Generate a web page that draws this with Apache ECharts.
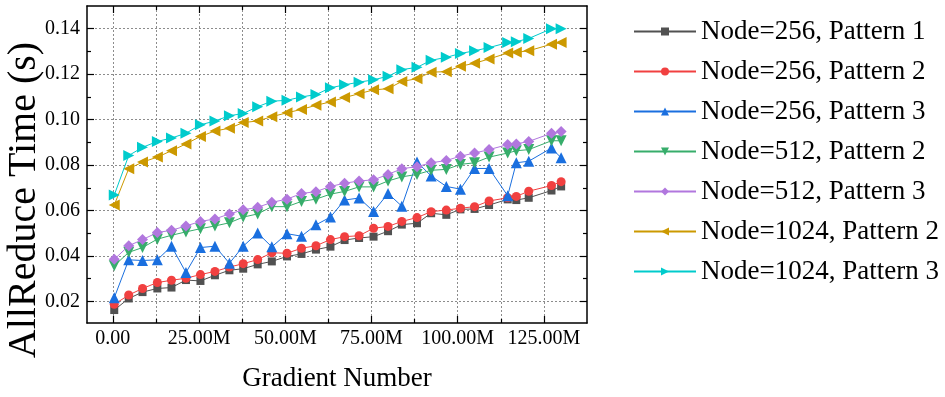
<!DOCTYPE html>
<html>
<head>
<meta charset="utf-8">
<script src="https://cdn.jsdelivr.net/npm/echarts@6/dist/echarts.min.js"></script>
<style>html,body{margin:0;padding:0;background:#fff}#c{width:945px;height:397px}</style>
</head>
<body>
<div id="c"></div>
<script>
// Gradient number (millions)
const gradientM = [0.4, 4.6, 8.6, 12.9, 17.0, 21.2, 25.4, 29.6, 33.8, 37.8, 42.0, 46.1, 50.5, 54.7, 58.9, 63.1, 67.2, 71.4, 75.6, 79.8, 83.8, 88.2, 92.3, 96.7, 100.8, 104.9, 109.1, 114.5, 117.0, 120.6, 127.2, 130.0];

const node256p1 = [0.0162, 0.0213, 0.0241, 0.0257, 0.0261, 0.0294, 0.0290, 0.0315, 0.0337, 0.0344, 0.0363, 0.0376, 0.0398, 0.0409, 0.0428, 0.0441, 0.0470, 0.0479, 0.0485, 0.0509, 0.0538, 0.0544, 0.0588, 0.0581, 0.0605, 0.0607, 0.0624, 0.0649, 0.0646, 0.0656, 0.0688, 0.0706];
const node256p2 = [0.0187, 0.0228, 0.0257, 0.0283, 0.0293, 0.0302, 0.0318, 0.0332, 0.0351, 0.0366, 0.0384, 0.0414, 0.0412, 0.0434, 0.0445, 0.0472, 0.0485, 0.0489, 0.0522, 0.0530, 0.0552, 0.0569, 0.0595, 0.0602, 0.0610, 0.0617, 0.0642, 0.0656, 0.0662, 0.0685, 0.0710, 0.0727];
const node256p3 = [0.0216, 0.0383, 0.0380, 0.0383, 0.0443, 0.0327, 0.0437, 0.0443, 0.0368, 0.0443, 0.0501, 0.0440, 0.0498, 0.0487, 0.0537, 0.0571, 0.0646, 0.0655, 0.0596, 0.0675, 0.0619, 0.0814, 0.0752, 0.0706, 0.0694, 0.0785, 0.0785, 0.0665, 0.0810, 0.0817, 0.0875, 0.0832];
const node512p2 = [0.0357, 0.0416, 0.0437, 0.0474, 0.0491, 0.0506, 0.0520, 0.0532, 0.0546, 0.0571, 0.0585, 0.0617, 0.0617, 0.0640, 0.0650, 0.0672, 0.0684, 0.0704, 0.0704, 0.0730, 0.0748, 0.0759, 0.0777, 0.0781, 0.0803, 0.0810, 0.0835, 0.0853, 0.0863, 0.0868, 0.0907, 0.0907];
const node512p3 = [0.0385, 0.0445, 0.0472, 0.0503, 0.0513, 0.0532, 0.0552, 0.0563, 0.0585, 0.0603, 0.0614, 0.0636, 0.0650, 0.0675, 0.0683, 0.0706, 0.0720, 0.0730, 0.0735, 0.0759, 0.0784, 0.0793, 0.0810, 0.0820, 0.0839, 0.0853, 0.0868, 0.0890, 0.0893, 0.0904, 0.0940, 0.0948];
const node1024p2 = [0.0624, 0.0784, 0.0813, 0.0835, 0.0863, 0.0893, 0.0926, 0.0950, 0.0962, 0.0987, 0.0994, 0.1013, 0.1030, 0.1045, 0.1063, 0.1078, 0.1097, 0.1114, 0.1131, 0.1136, 0.1168, 0.1180, 0.1209, 0.1211, 0.1235, 0.1248, 0.1267, 0.1293, 0.1296, 0.1303, 0.1332, 0.1339];
const node1024p3 = [0.0668, 0.0842, 0.0878, 0.0904, 0.0919, 0.0940, 0.0977, 0.0994, 0.1017, 0.1027, 0.1057, 0.1081, 0.1085, 0.1100, 0.1110, 0.1140, 0.1153, 0.1165, 0.1175, 0.1191, 0.1220, 0.1230, 0.1261, 0.1274, 0.1291, 0.1303, 0.1317, 0.1339, 0.1343, 0.1357, 0.1400, 0.1400];

const seriesNames = ['Node=256, Pattern 1', 'Node=256, Pattern 2', 'Node=256, Pattern 3', 'Node=512, Pattern 2', 'Node=512, Pattern 3', 'Node=1024, Pattern 2', 'Node=1024, Pattern 3'];

// Tick values / labels
const xMajorTicks = [0, 25, 50, 75, 100, 125];
const xTickLabels = ['0.00', '25.00M', '50.00M', '75.00M', '100.00M', '125.00M'];
const xMinorTicks = [12.5, 37.5, 62.5, 87.5, 112.5];
const xGridTicks = [0, 12.5, 25, 37.5, 50, 62.5, 75, 87.5, 100, 112.5, 125];
const yMajorTicks = [0.02, 0.04, 0.06, 0.08, 0.10, 0.12, 0.14];
const yTickLabels = ['0.02', '0.04', '0.06', '0.08', '0.10', '0.12', '0.14'];
const yMinorTicks = [0.03, 0.05, 0.07, 0.09, 0.11, 0.13];

const colors = ['#515151', '#F14040', '#1A6FDF', '#37AD6B', '#B177DE', '#CC9900', '#00CBCC'];
const symbols = ['rect', 'circle', 'triangle', 'triangle', 'diamond', 'triangle', 'triangle'];
const symRot = [0, 0, 0, 180, 0, 90, -90];
const symSize = [8, 9, 11, 11, 11, 11, 11];
const allData = [node256p1, node256p2, node256p3, node512p2, node512p3, node1024p2, node1024p3];

const FONT = '"Liberation Serif", "Times New Roman", serif';
const XMIN = -7.5, XMAX = 137.5, YMIN = 0.0105, YMAX = 0.15;

function xAxisDef(pos, ticks, len, labels, grid, showLine) {
  return {
    type: 'value', position: pos, min: XMIN, max: XMAX,
    axisLine: { show: showLine, onZero: false, lineStyle: { color: '#000', width: 1.5 } },
    axisTick: { show: len > 0, inside: true, length: len, customValues: ticks, lineStyle: { color: '#000', width: 1.2 } },
    axisLabel: labels ? {
      show: true, customValues: ticks, margin: 6,
      fontFamily: FONT, fontSize: 20, color: '#000',
      formatter: v => xTickLabels[xMajorTicks.indexOf(Math.round(v * 10) / 10)] || ''
    } : { show: false },
    splitLine: grid ? { show: true, lineStyle: { color: '#8c8c8c', type: [2, 2], width: 1 } } : { show: false }
  };
}
function yAxisDef(pos, ticks, len, labels, grid, showLine) {
  return {
    type: 'value', position: pos, min: YMIN, max: YMAX,
    axisLine: { show: showLine, onZero: false, lineStyle: { color: '#000', width: 1.5 } },
    axisTick: { show: len > 0, inside: true, length: len, customValues: ticks, lineStyle: { color: '#000', width: 1.2 } },
    axisLabel: labels ? {
      show: true, customValues: ticks, margin: 7,
      fontFamily: FONT, fontSize: 20, color: '#000',
      formatter: v => { const i = yMajorTicks.findIndex(t => Math.abs(t - v) < 1e-6); return i >= 0 ? yTickLabels[i] : ''; }
    } : { show: false },
    splitLine: grid ? { show: true, lineStyle: { color: '#8c8c8c', type: [2, 2], width: 1 } } : { show: false }
  };
}

const chart = echarts.init(document.getElementById('c'), null, { renderer: 'canvas' });
const option = {
  backgroundColor: '#fff',
  animation: false,
  grid: { left: 87, right: 358, top: 6, bottom: 70, containLabel: false },
  xAxis: [
    Object.assign(xAxisDef('bottom', xMajorTicks, 7, true, false, true), {
      name: 'Gradient Number', nameLocation: 'middle', nameGap: 42,
      nameTextStyle: { fontFamily: FONT, fontSize: 27, color: '#000' }
    }),
    xAxisDef('bottom', xGridTicks, 0, false, true, false),
    xAxisDef('bottom', xMinorTicks, 4, false, false, false),
    xAxisDef('top', xMajorTicks, 7, false, false, true),
    xAxisDef('top', xMinorTicks, 4, false, false, false)
  ],
  yAxis: [
    yAxisDef('left', yMajorTicks, 7, true, true, true),
    yAxisDef('left', yMinorTicks, 4, false, false, false),
    yAxisDef('right', yMajorTicks, 7, false, false, true),
    yAxisDef('right', yMinorTicks, 4, false, false, false)
  ],
  legend: {
    orient: 'vertical', left: 633, top: 18, padding: 0,
    itemWidth: 62, itemHeight: 10, itemGap: 13,
    textStyle: { fontFamily: FONT, fontSize: 27, color: '#000', lineHeight: 27 },
    data: seriesNames
  },
  graphic: [{
    type: 'text', x: 24, y: 200, rotation: Math.PI / 2,
    style: { text: 'AllReduce Time (s)', fontFamily: FONT, fontSize: 40, fill: '#000', align: 'center', verticalAlign: 'middle' }
  }],
  series: seriesNames.map((name, k) => ({
    name, type: 'line', xAxisIndex: 0, yAxisIndex: 0,
    data: gradientM.map((x, i) => [x, allData[k][i]]),
    symbol: symbols[k], symbolSize: symSize[k], symbolRotate: symRot[k],
    showAllSymbol: true,
    lineStyle: { color: colors[k], width: 1 },
    itemStyle: { color: colors[k] },
    z: 3 + k
  }))
};
chart.setOption(option);
</script>
</body>
</html>
